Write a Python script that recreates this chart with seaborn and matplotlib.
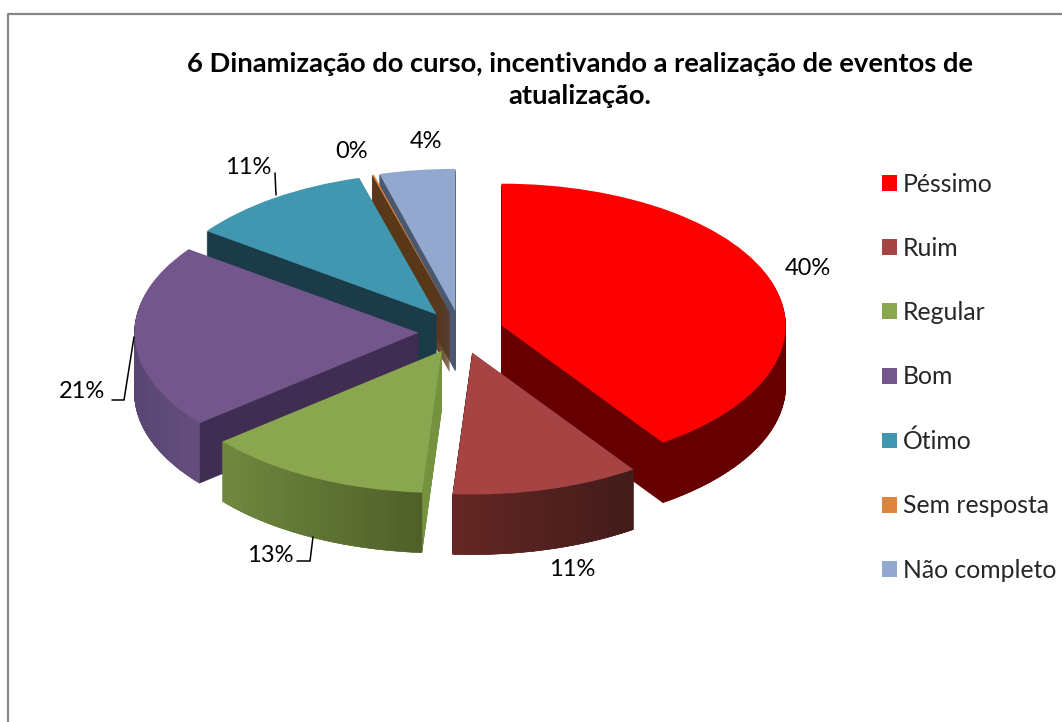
import numpy as np
import seaborn as sns
import matplotlib.pyplot as plt
from matplotlib.colors import to_rgb
from matplotlib.patches import Polygon

# Dados
categorias = ["Péssimo", "Ruim", "Regular", "Bom", "Ótimo", "Sem resposta", "Não completo"]
valores = [40.4, 10.7, 12.9, 21, 10.6, 0.1, 4.3]
rotulos = ["40%", "11%", "13%", "21%", "11%", "0%", "4%"]

cores = ["#FF0000", "#A64444", "#8AA64E", "#72568C", "#4097AF", "#DC853F", "#92A8CF"]
cores_parede = ["#660000", "#421C1A", "#75923F", "#3F2E52", "#1A3B47", "#5A3719", "#4A5870"]
borda_esq = ["#660000", "#652725", "#6F883F", "#5A4673", "#1A3B47", "#5A3719", "#4A5870"]
borda_dir = ["#660000", "#421C1A", "#4F5F28", "#654F80", "#1A3B47", "#5A3719", "#4A5870"]
ordem_z = [0, 6, 5, 4, 3, 2, 1]

LARG, ALT = 1062, 722
CX, CY, RX, RY = 461, 332, 284, 142
PROF = 60
N_CAMADAS = 60
EXPLODE = [0.15] * 7

sns.set_theme(style="white")
plt.rcParams["font.family"] = ["Lato", "DejaVu Sans"]
paleta = sns.color_palette(cores)


def px(x, y):
    # pixel da imagem -> coordenada do eixo
    return (x - CX) / RX, (CY - y) / RY


fig = plt.figure(figsize=(LARG / 100, ALT / 100), dpi=100, facecolor="white")
ax = fig.add_axes([0, 0, 1, 1])

# Extrusão: várias pizzas empilhadas, de baixo para cima
dz = PROF / RY
for k in range(N_CAMADAS, 0, -1):
    fatias, _ = ax.pie(valores, explode=EXPLODE, colors=cores_parede, startangle=90, counterclock=False,
                       center=(0, -dz * k / N_CAMADAS), wedgeprops={"linewidth": 0.3})
    for i, w in enumerate(fatias):
        w.set_edgecolor(cores_parede[i])
        w.set_zorder(ordem_z[i] * 10 + 1 + (N_CAMADAS - k) / N_CAMADAS)

# Face superior
fatias, _ = ax.pie(valores, explode=EXPLODE, colors=paleta, startangle=90, counterclock=False,
                   wedgeprops={"linewidth": 0})
for i, w in enumerate(fatias):
    w.set_zorder(ordem_z[i] * 10 + 5)

# Lateral curva com degradê
acum = np.cumsum([0] + valores) / sum(valores)
for i in range(len(valores)):
    ini = np.pi / 2 - 2 * np.pi * acum[i + 1]
    fim = np.pi / 2 - 2 * np.pi * acum[i]
    meio = (ini + fim) / 2
    ox, oy = EXPLODE[i] * np.cos(meio), EXPLODE[i] * np.sin(meio)
    angs = np.linspace(ini, fim, 60)
    xs_frente = [np.cos(a) for a in angs if np.sin(a) < 0]
    if not xs_frente:
        continue
    xmin, xmax = min(xs_frente), max(xs_frente)
    for a, b in zip(angs[:-1], angs[1:]):
        if np.sin((a + b) / 2) >= 0:
            continue
        t = (np.cos((a + b) / 2) - xmin) / max(xmax - xmin, 1e-6)
        cor = (1 - t) * np.array(to_rgb(borda_esq[i])) + t * np.array(to_rgb(borda_dir[i]))
        x1, y1 = ox + np.cos(a), oy + np.sin(a)
        x2, y2 = ox + np.cos(b), oy + np.sin(b)
        ax.add_patch(Polygon([(x1, y1), (x2, y2), (x2, y2 - dz), (x1, y1 - dz)], closed=True,
                             facecolor=cor, edgecolor=cor, linewidth=0.4, zorder=ordem_z[i] * 10 + 3))

ax.set_aspect("auto")
ax.set_xlim((0 - CX) / RX, (LARG - CX) / RX)
ax.set_ylim((CY - ALT) / RY, CY / RY)
ax.axis("off")

# Moldura (só topo e esquerda aparecem)
ax.plot(*zip(px(7.5, ALT), px(7.5, 13.5), px(LARG, 13.5)), color="#868686", lw=1.6, zorder=1, clip_on=False)

# Título
ax.text(*px(580, 80), "6 Dinamização do curso, incentivando a realização de eventos de\natualização.",
        ha="center", va="center", fontsize=19.7, fontweight="bold", color="black", linespacing=1.4)

# Rótulos
pos_rotulos = [(808, 269), (572, 570), (270, 556), (82, 392), (248, 167), (352, 151), (426, 141)]
for txt, (x, y) in zip(rotulos, pos_rotulos):
    ax.text(*px(x, y), txt, ha="center", va="center", fontsize=17, color="black", zorder=200)

# Linhas de chamada
for linha in [[(275, 173), (276, 195)], [(112, 400), (124, 400), (134, 337)], [(297, 561), (310, 561), (313, 537)]]:
    ax.plot(*zip(*[px(x, y) for x, y in linha]), color="black", lw=1.1, zorder=100)

# Legenda
ax.legend(fatias, categorias, loc="upper left", bbox_to_anchor=(882 / LARG, 1 - 172.5 / ALT), frameon=False,
          fontsize=17.8, handlelength=0.61, handleheight=0.61, handletextpad=0.22, labelspacing=1.67,
          borderpad=0, borderaxespad=0)

fig.savefig("out.png", dpi=100)
